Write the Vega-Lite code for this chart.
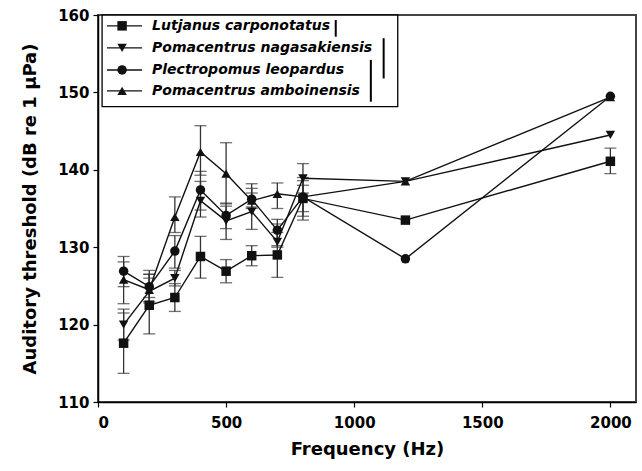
{
  "$schema": "https://vega.github.io/schema/vega-lite/v6.json",
  "width": 538,
  "height": 387,
  "autosize": "none",
  "padding": {"left": 98, "top": 15, "right": 6, "bottom": 69},
  "background": "white",
  "config": {
    "view": {"stroke": "#444", "strokeWidth": 2},
    "font": "DejaVu Sans",
    "axis": {
      "grid": false,
      "domainColor": "#000",
      "domainWidth": 1.5,
      "tickColor": "#000",
      "tickSize": 5,
      "tickWidth": 1.2,
      "labelFont": "DejaVu Sans",
      "labelFontWeight": "bold",
      "labelFontSize": 15,
      "labelColor": "#000",
      "titleFont": "DejaVu Sans",
      "titleFontWeight": "bold",
      "titleFontSize": 18,
      "titleColor": "#000"
    }
  },
  "datasets": {
    "thresholds": [
      {"species": "Lutjanus carponotatus", "freq": 100, "mean": 117.6, "lo": 113.7, "hi": 121.5},
      {"species": "Lutjanus carponotatus", "freq": 200, "mean": 122.5, "lo": 118.8, "hi": 126.5},
      {"species": "Lutjanus carponotatus", "freq": 300, "mean": 123.5, "lo": 121.7, "hi": 125.3},
      {"species": "Lutjanus carponotatus", "freq": 400, "mean": 128.8, "lo": 126.0, "hi": 131.4},
      {"species": "Lutjanus carponotatus", "freq": 500, "mean": 126.9, "lo": 125.4, "hi": 128.4},
      {"species": "Lutjanus carponotatus", "freq": 600, "mean": 128.9, "lo": 127.6, "hi": 130.2},
      {"species": "Lutjanus carponotatus", "freq": 700, "mean": 129.0, "lo": 126.1, "hi": 131.9},
      {"species": "Lutjanus carponotatus", "freq": 800, "mean": 136.3, "lo": 134.6, "hi": 138.0},
      {"species": "Lutjanus carponotatus", "freq": 1200, "mean": 133.5, "lo": null, "hi": null},
      {"species": "Lutjanus carponotatus", "freq": 2000, "mean": 141.1, "lo": 139.5, "hi": 142.8},
      {"species": "Pomacentrus nagasakiensis", "freq": 100, "mean": 120.0, "lo": 118.0, "hi": 122.0},
      {"species": "Pomacentrus nagasakiensis", "freq": 200, "mean": 124.3, "lo": 122.8, "hi": 126.5},
      {"species": "Pomacentrus nagasakiensis", "freq": 300, "mean": 126.0, "lo": 125.0, "hi": 127.0},
      {"species": "Pomacentrus nagasakiensis", "freq": 400, "mean": 136.0, "lo": 133.9, "hi": 138.5},
      {"species": "Pomacentrus nagasakiensis", "freq": 500, "mean": 133.4, "lo": 132.4, "hi": 135.3},
      {"species": "Pomacentrus nagasakiensis", "freq": 600, "mean": 134.6, "lo": 132.3, "hi": 137.0},
      {"species": "Pomacentrus nagasakiensis", "freq": 700, "mean": 130.7, "lo": 130.0, "hi": 133.0},
      {"species": "Pomacentrus nagasakiensis", "freq": 800, "mean": 138.9, "lo": 137.0, "hi": 140.8},
      {"species": "Pomacentrus nagasakiensis", "freq": 1200, "mean": 138.5, "lo": null, "hi": null},
      {"species": "Pomacentrus nagasakiensis", "freq": 2000, "mean": 144.5, "lo": null, "hi": null},
      {"species": "Plectropomus leopardus", "freq": 100, "mean": 126.9, "lo": 124.9, "hi": 128.8},
      {"species": "Plectropomus leopardus", "freq": 200, "mean": 124.9, "lo": 123.0, "hi": 127.0},
      {"species": "Plectropomus leopardus", "freq": 300, "mean": 129.5, "lo": 127.3, "hi": 131.5},
      {"species": "Plectropomus leopardus", "freq": 400, "mean": 137.4, "lo": 134.8, "hi": 139.8},
      {"species": "Plectropomus leopardus", "freq": 500, "mean": 134.1, "lo": 131.0, "hi": 135.7},
      {"species": "Plectropomus leopardus", "freq": 600, "mean": 136.2, "lo": 135.2, "hi": 137.6},
      {"species": "Plectropomus leopardus", "freq": 700, "mean": 132.2, "lo": 130.2, "hi": 133.6},
      {"species": "Plectropomus leopardus", "freq": 800, "mean": 136.5, "lo": 134.0, "hi": 139.0},
      {"species": "Plectropomus leopardus", "freq": 1200, "mean": 128.5, "lo": null, "hi": null},
      {"species": "Plectropomus leopardus", "freq": 2000, "mean": 149.5, "lo": null, "hi": null},
      {"species": "Pomacentrus amboinensis", "freq": 100, "mean": 125.8, "lo": 122.7, "hi": 128.1},
      {"species": "Pomacentrus amboinensis", "freq": 200, "mean": 124.5, "lo": 123.5, "hi": 126.0},
      {"species": "Pomacentrus amboinensis", "freq": 300, "mean": 133.9, "lo": 131.9, "hi": 136.5},
      {"species": "Pomacentrus amboinensis", "freq": 400, "mean": 142.3, "lo": 139.3, "hi": 145.7},
      {"species": "Pomacentrus amboinensis", "freq": 500, "mean": 139.5, "lo": 135.6, "hi": 143.5},
      {"species": "Pomacentrus amboinensis", "freq": 600, "mean": 136.0, "lo": 135.0, "hi": 138.2},
      {"species": "Pomacentrus amboinensis", "freq": 700, "mean": 136.9, "lo": 135.0, "hi": 138.3},
      {"species": "Pomacentrus amboinensis", "freq": 800, "mean": 136.5, "lo": 133.5, "hi": 138.6},
      {"species": "Pomacentrus amboinensis", "freq": 1200, "mean": 138.5, "lo": null, "hi": null},
      {"species": "Pomacentrus amboinensis", "freq": 2000, "mean": 149.4, "lo": null, "hi": null}
    ],
    "one": [{"k": 1}]
  },
  "layer": [
    {
      "data": {"name": "thresholds"},
      "mark": {"type": "rule", "color": "#333", "strokeWidth": 1.3},
      "encoding": {
        "x": {
          "field": "freq", "type": "quantitative",
          "scale": {"domain": [0, 2100], "nice": false},
          "axis": {"values": [0, 500, 1000, 1500, 2000], "format": "d", "title": "Frequency (Hz)", "titlePadding": 10, "labelPadding": 8}
        },
        "y": {"field": "lo", "type": "quantitative",
              "scale": {"domain": [110, 160], "nice": false},
              "axis": {"values": [110, 120, 130, 140, 150, 160], "title": "Auditory threshold (dB re 1 μPa)", "titlePadding": 18, "labelPadding": 4}},
        "y2": {"field": "hi"}
      }
    },
    {
      "data": {"name": "thresholds"},
      "mark": {"type": "tick", "orient": "horizontal", "color": "#333", "size": 12, "thickness": 1.3},
      "encoding": {"x": {"field": "freq", "type": "quantitative"}, "y": {"field": "lo", "type": "quantitative"}}
    },
    {
      "data": {"name": "thresholds"},
      "mark": {"type": "tick", "orient": "horizontal", "color": "#333", "size": 12, "thickness": 1.3},
      "encoding": {"x": {"field": "freq", "type": "quantitative"}, "y": {"field": "hi", "type": "quantitative"}}
    },
    {
      "data": {"name": "thresholds"},
      "mark": {"type": "line", "color": "#111", "strokeWidth": 1.4},
      "encoding": {
        "x": {"field": "freq", "type": "quantitative"},
        "y": {"field": "mean", "type": "quantitative"},
        "detail": {"field": "species"}
      }
    },
    {
      "data": {"name": "thresholds"},
      "mark": {"type": "point", "filled": true, "color": "#111", "opacity": 1, "size": 90},
      "encoding": {
        "x": {"field": "freq", "type": "quantitative"},
        "y": {"field": "mean", "type": "quantitative"},
        "shape": {
          "field": "species", "type": "nominal", "legend": null,
          "scale": {
            "domain": ["Lutjanus carponotatus", "Pomacentrus nagasakiensis", "Plectropomus leopardus", "Pomacentrus amboinensis"],
            "range": ["square", "triangle-down", "circle", "triangle-up"]
          }
        }
      }
    },
    {
      "data": {"name": "one"},
      "mark": {"type": "rect", "fill": "white", "stroke": "#000", "strokeWidth": 1.3},
      "encoding": {
        "x": {"datum": 16}, "x2": {"datum": 1170},
        "y": {"datum": 148.15}, "y2": {"datum": 160}
      }
    },
    {"data": {"name": "one"}, "mark": {"type": "rule", "color": "#111", "strokeWidth": 1.4}, "encoding": {"x": {"datum": 35}, "x2": {"datum": 172}, "y": {"datum": 158.6}}},
    {"data": {"name": "one"}, "mark": {"type": "rule", "color": "#111", "strokeWidth": 1.4}, "encoding": {"x": {"datum": 35}, "x2": {"datum": 172}, "y": {"datum": 155.75}}},
    {"data": {"name": "one"}, "mark": {"type": "rule", "color": "#111", "strokeWidth": 1.4}, "encoding": {"x": {"datum": 35}, "x2": {"datum": 172}, "y": {"datum": 152.9}}},
    {"data": {"name": "one"}, "mark": {"type": "rule", "color": "#111", "strokeWidth": 1.4}, "encoding": {"x": {"datum": 35}, "x2": {"datum": 172}, "y": {"datum": 150.2}}},
    {"data": {"name": "one"}, "mark": {"type": "point", "shape": "square", "filled": true, "color": "#111", "opacity": 1, "size": 90}, "encoding": {"x": {"datum": 94}, "y": {"datum": 158.6}}},
    {"data": {"name": "one"}, "mark": {"type": "point", "shape": "triangle-down", "filled": true, "color": "#111", "opacity": 1, "size": 90}, "encoding": {"x": {"datum": 94}, "y": {"datum": 155.75}}},
    {"data": {"name": "one"}, "mark": {"type": "point", "shape": "circle", "filled": true, "color": "#111", "opacity": 1, "size": 90}, "encoding": {"x": {"datum": 94}, "y": {"datum": 152.9}}},
    {"data": {"name": "one"}, "mark": {"type": "point", "shape": "triangle-up", "filled": true, "color": "#111", "opacity": 1, "size": 90}, "encoding": {"x": {"datum": 94}, "y": {"datum": 150.2}}},
    {"data": {"name": "one"}, "mark": {"type": "text", "text": "Lutjanus carponotatus", "align": "left", "baseline": "middle", "font": "DejaVu Sans", "fontWeight": "bold", "fontStyle": "italic", "fontSize": 14, "color": "#000"}, "encoding": {"x": {"datum": 211}, "y": {"datum": 158.6}}},
    {"data": {"name": "one"}, "mark": {"type": "text", "text": "Pomacentrus nagasakiensis", "align": "left", "baseline": "middle", "font": "DejaVu Sans", "fontWeight": "bold", "fontStyle": "italic", "fontSize": 14, "color": "#000"}, "encoding": {"x": {"datum": 211}, "y": {"datum": 155.75}}},
    {"data": {"name": "one"}, "mark": {"type": "text", "text": "Plectropomus leopardus", "align": "left", "baseline": "middle", "font": "DejaVu Sans", "fontWeight": "bold", "fontStyle": "italic", "fontSize": 14, "color": "#000"}, "encoding": {"x": {"datum": 211}, "y": {"datum": 152.9}}},
    {"data": {"name": "one"}, "mark": {"type": "text", "text": "Pomacentrus amboinensis", "align": "left", "baseline": "middle", "font": "DejaVu Sans", "fontWeight": "bold", "fontStyle": "italic", "fontSize": 14, "color": "#000"}, "encoding": {"x": {"datum": 211}, "y": {"datum": 150.2}}},
    {"data": {"name": "one"}, "mark": {"type": "rule", "color": "#000", "strokeWidth": 2}, "encoding": {"x": {"datum": 928}, "y": {"datum": 159.35}, "y2": {"datum": 157.2}}},
    {"data": {"name": "one"}, "mark": {"type": "rule", "color": "#000", "strokeWidth": 2}, "encoding": {"x": {"datum": 1115}, "y": {"datum": 157.0}, "y2": {"datum": 151.8}}},
    {"data": {"name": "one"}, "mark": {"type": "rule", "color": "#000", "strokeWidth": 2}, "encoding": {"x": {"datum": 1065}, "y": {"datum": 154.2}, "y2": {"datum": 148.8}}}
  ]
}
